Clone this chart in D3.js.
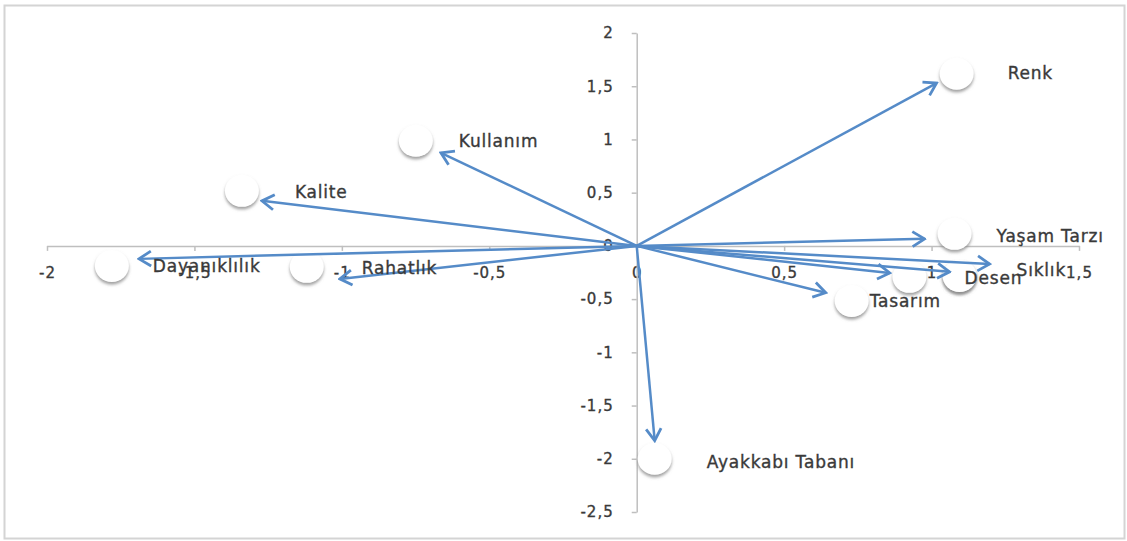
<!DOCTYPE html>
<html><head><meta charset="utf-8">
<script src="https://cdn.jsdelivr.net/npm/d3@7"></script>
<style>
html,body{margin:0;padding:0;background:#fff;}
svg{display:block;}
</style></head>
<body>
<svg id="chart" width="1127" height="541"></svg>
<script>
// ---- data ----
const names   = ["Renk","Kullanım","Kalite","Yaşam Tarzı","Dayanıklılık","Rahatlık","Sıklık","Desen","","Tasarım","Ayakkabı Tabanı"];
const arrowX  = [1.017,-0.664,-1.271,0.976,-1.688,-1.007,1.197,1.061,0.858,0.641,0.061];
const arrowY  = [1.53, 0.874, 0.423,0.066,-0.122,-0.31,-0.17,-0.244,-0.254,-0.44,-1.83];
const pointX  = [1.085,-0.749,-1.339,1.078,-1.78,-1.119,1.095,1.095,0.925,0.729,0.061];
const pointY  = [1.617,0.987,0.517,0.113,-0.188,-0.197,-0.282,-0.282,-0.291,-0.517,-2.0];
const xTicks  = [-2,-1.5,-1,-0.5,0,0.5,1,1.5];
const yTicks  = [2,1.5,1,0.5,0,-0.5,-1,-1.5,-2,-2.5];

// ---- layout (pixel offsets of labels from their markers) ----
const labelOffset = {
  "Renk":[51,0],"Kullanım":[43,1],"Kalite":[53,2],"Yaşam Tarzı":[42,3],
  "Dayanıklılık":[41,1],"Rahatlık":[55,2],"Sıklık":[57,-5],"Desen":[5,3],
  "Tasarım":[18,1],"Ayakkabı Tabanı":[52,4]
};

const svg = d3.select("#chart");
const x = d3.scaleLinear().domain([-2,1.5]).range([47,1079]);
const y = d3.scaleLinear().domain([-2.5,2]).range([512,33]);
const fmt = v => String(v).replace(".", ",");

const defs = svg.append("defs");
const f = defs.append("filter").attr("id","sh").attr("x","-50%").attr("y","-50%").attr("width","200%").attr("height","200%");
f.append("feDropShadow").attr("dx",0).attr("dy",2.5).attr("stdDeviation",1.6).attr("flood-color","#888").attr("flood-opacity",0.8);
defs.append("marker").attr("id","ah").attr("markerUnits","userSpaceOnUse")
  .attr("viewBox","-16 -10 18 20").attr("refX",0).attr("refY",0)
  .attr("markerWidth",18).attr("markerHeight",20).attr("orient","auto")
  .append("path").attr("d","M-12,-7.5L0,0L-12,7.5").attr("fill","none")
  .attr("stroke","#558bc8").attr("stroke-width",2.8);

// frame
svg.append("rect").attr("x",4.5).attr("y",5.5).attr("width",1120).attr("height",533)
  .attr("fill","none").attr("stroke","#d4d4d4").attr("stroke-width",2);

const axisColor = "#bfbfbf";
const tickFont = "DejaVu Sans, sans-serif";

const gx = svg.append("g").attr("transform",`translate(0,${y(0)})`)
  .call(d3.axisBottom(x).tickValues(xTicks).tickFormat(fmt).tickSize(5).tickSizeOuter(0).tickPadding(16));
const gy = svg.append("g").attr("transform",`translate(${x(0)},0)`)
  .call(d3.axisLeft(y).tickValues(yTicks).tickFormat(fmt).tickSize(5).tickSizeOuter(0).tickPadding(18));
[gx,gy].forEach(g=>{
  g.select(".domain").attr("stroke",axisColor).attr("stroke-width",1.5);
  g.selectAll(".tick line").attr("stroke",axisColor).attr("stroke-width",1.5);
  g.selectAll(".tick text").attr("fill","#3a3a3a").attr("stroke","#3a3a3a").attr("stroke-width",0.35)
    .style("font-family",tickFont).style("font-size","15px").style("letter-spacing","1px");
});

const data = names.map((n,i)=>({n,ax:arrowX[i],ay:arrowY[i],px:pointX[i],py:pointY[i]}));

// markers (white circles with shadow)
svg.append("g").selectAll("ellipse").data(data).join("ellipse")
  .attr("cx",d=>x(d.px)).attr("cy",d=>y(d.py)).attr("rx",17).attr("ry",16)
  .attr("fill","#fff").attr("filter","url(#sh)");

// arrows
svg.append("g").selectAll("line").data(data).join("line")
  .attr("x1",x(0)).attr("y1",y(0)).attr("x2",d=>x(d.ax)).attr("y2",d=>y(d.ay))
  .attr("stroke","#558bc8").attr("stroke-width",2.5).attr("marker-end","url(#ah)");

// labels
svg.append("g").selectAll("text").data(data.filter(d=>d.n)).join("text")
  .attr("x",d=>x(d.px)+labelOffset[d.n][0]).attr("y",d=>y(d.py)+labelOffset[d.n][1])
  .attr("dominant-baseline","middle").attr("fill","#3a3a3a").attr("stroke","#3a3a3a").attr("stroke-width",0.35)
  .style("font-family",tickFont).style("font-size","17px").style("letter-spacing","0.8px")
  .text(d=>d.n);
</script>
</body></html>
